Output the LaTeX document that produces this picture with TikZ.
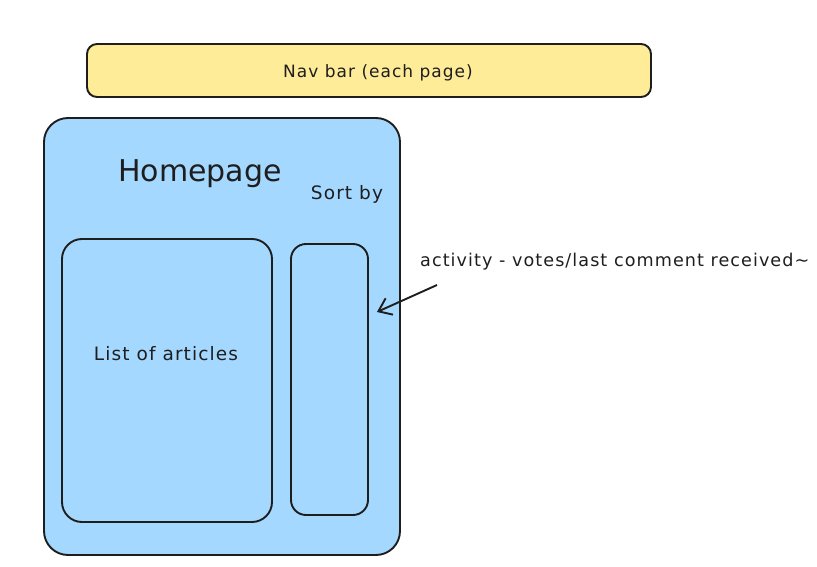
\documentclass[tikz,border=0pt]{standalone}
\usepackage{fontspec}
\setmainfont{DejaVu Sans}
\newfontfamily\handfont[LetterSpace=6]{DejaVu Sans}
\usetikzlibrary{arrows.meta}
\definecolor{ink}{HTML}{1E1E1E}
\definecolor{navfill}{HTML}{FFEC99}
\definecolor{pagefill}{HTML}{A5D8FF}
\tikzset{
  panel/.style={draw=ink, line width=1.9pt, rounded corners=#1},
  label/.style={text=ink, inner sep=0pt, anchor=center},
}
\begin{document}
\begin{tikzpicture}[x=1pt, y=-1pt]
  \useasboundingbox (0,0) rectangle (817,567);
  % navigation bar
  \draw[panel=10pt, fill=navfill] (87,44) rectangle (651,97);
  \node[label, font=\handfont\fontsize{17}{20}\selectfont] (navtext) at (378,73) {Nav bar (each page)};
  % homepage frame
  \draw[panel=24pt, fill=pagefill] (44,118) rectangle (400,555);
  \node[label, font=\fontsize{30}{36}\selectfont] (home) at (200,174) {Homepage};
  \node[label, font=\handfont\fontsize{18.5}{21}\selectfont] (sortby) at (347,194) {Sort by};
  % article list and sort column
  \node[panel=20pt, minimum width=210pt, minimum height=283pt, inner sep=0pt] (list) at (167,380.5) {};
  \node[label, font=\handfont\fontsize{18.5}{21}\selectfont] (listtext) at (166,354) {List of articles};
  \node[panel=15pt, minimum width=77pt, minimum height=271pt, inner sep=0pt] (sort) at (329.5,379.5) {};
  % annotation
  \node[label, anchor=west, font=\handfont\fontsize{17.6}{21}\selectfont] (note) at (420,262) {activity - votes/last comment received\textasciitilde};
  \coordinate (tail) at (437,285);
  \coordinate (tip) at ([xshift=8pt, yshift=67.5pt]sort.east);
  \draw[ink, line width=1.9pt, -{Straight Barb[length=12pt, width=18pt]}] (tail) -- (tip);
\end{tikzpicture}
\end{document}
